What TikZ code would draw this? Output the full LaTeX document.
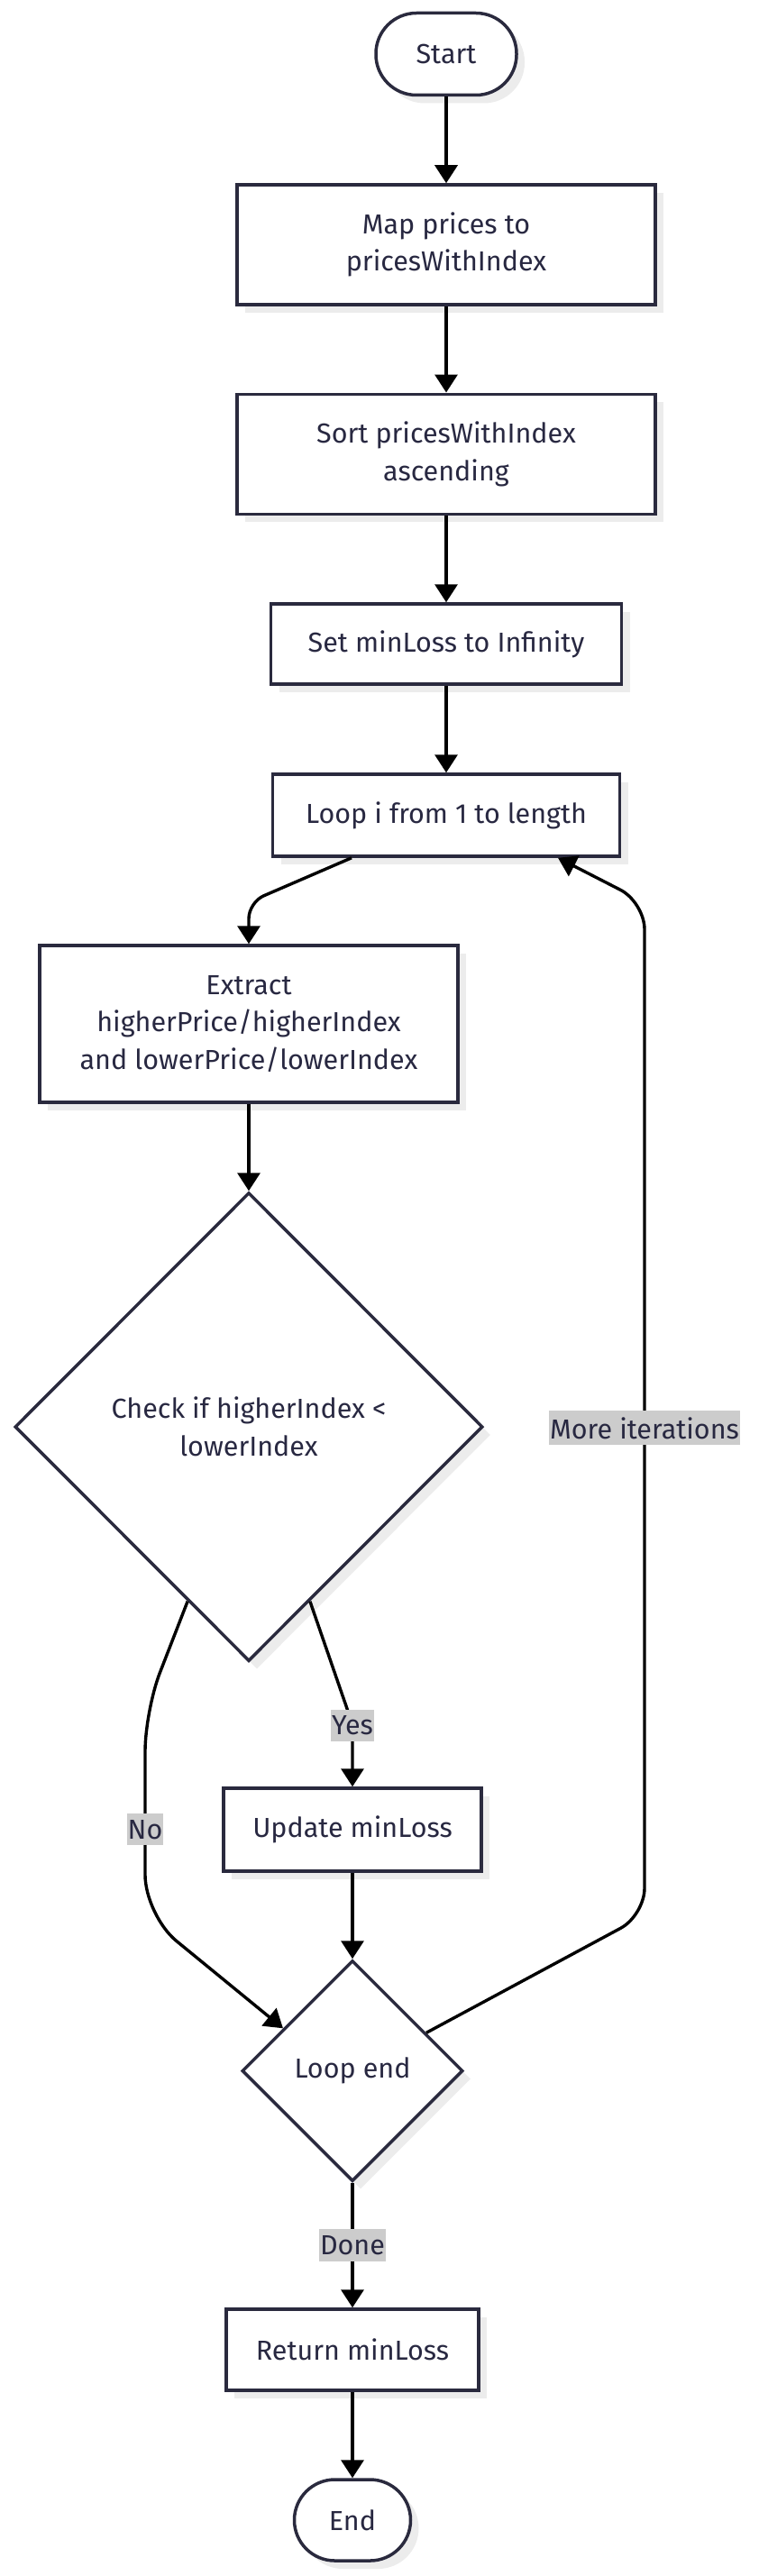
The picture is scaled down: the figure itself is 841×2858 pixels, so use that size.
\documentclass[tikz,border=0pt]{standalone}
\usepackage{fontspec}
\setmainfont{Fira Sans}
\usetikzlibrary{arrows.meta,shapes.geometric,shadows,calc}
\definecolor{nodeborder}{RGB}{42,42,62}
\definecolor{txt}{RGB}{40,40,65}
\definecolor{shadowc}{RGB}{236,236,236}
\definecolor{labelbg}{RGB}{204,204,204}
\tikzset{
  box/.style={draw=nodeborder, line width=3.5pt, fill=white, text=txt, align=center, inner sep=0pt,
    drop shadow={shadow xshift=9pt, shadow yshift=-9pt, fill=shadowc, opacity=1}},
  term/.style={box, rounded corners=45pt},
  dec/.style={box, diamond, aspect=1},
  edge/.style={draw=black, line width=3.4pt, -{Triangle[length=20pt,width=25pt]}},
  lab/.style={fill=labelbg, text=txt, sharp corners, inner xsep=1pt, inner ysep=7pt}
}
\begin{document}
\begin{tikzpicture}[x=1pt,y=-1pt, font=\fontsize{30.5}{41.5}\selectfont]
\useasboundingbox (0,0) rectangle (841,2858);
\node[term, minimum width=156pt, minimum height=91pt] (start) at (495,60) {Start};
\node[box, minimum width=464pt, minimum height=133pt] (map) at (495,271.5) {Map prices to\\pricesWithIndex};
\node[box, minimum width=464pt, minimum height=133pt] (sort) at (495,503.75) {Sort pricesWithIndex\\ascending};
\node[box, minimum width=389pt, minimum height=89pt] (setmin) at (495,714.5) {Set minLoss to Infinity};
\node[box, minimum width=385pt, minimum height=91pt] (loop) at (495,904.5) {Loop i from 1 to length};
\node[box, minimum width=464pt, minimum height=174pt] (extract) at (276,1136) {Extract\\higherPrice/higherIndex\\and lowerPrice/lowerIndex};
\node[dec, minimum width=519pt, minimum height=520pt] (check) at (276,1583) {Check if higherIndex <\\lowerIndex};
\node[box, minimum width=286pt, minimum height=92pt] (update) at (391,2030) {Update minLoss};
\node[dec, minimum width=245pt, minimum height=245pt] (loopend) at (391,2297.5) {Loop end};
\node[box, minimum width=280pt, minimum height=90pt] (return) at (391,2607) {Return minLoss};
\node[term, minimum width=129pt, minimum height=90pt] (end) at (391,2796) {End};

\coordinate (c1) at (276,1001);
\coordinate (c2) at (391,1913);
\coordinate (n1) at (161,1898);
\coordinate (n2) at (161,2125);
\coordinate (m1) at (715,2125);
\coordinate (m2) at (715,1001);

\draw[edge] (start) -- (map);
\draw[edge] (map) -- (sort);
\draw[edge] (sort) -- (setmin);
\draw[edge] (setmin) -- (loop);
\draw[edge, rounded corners=18pt] ($(loop.south)+(-105,0)$) -- (c1) -- (extract.north);
\draw[edge] (extract) -- (check);
\draw[edge, rounded corners=20pt] ($(check.south)!0.26!(check.east)$) -- (c2) -- node[lab, pos=0.02]{Yes} (update.north);
\draw[edge, rounded corners=45pt] ($(check.south)!0.26!(check.west)$) -- (n1) -- node[lab, pos=0.58]{No} (n2) -- ($(loopend.north)!0.62!(loopend.west)$);
\draw[edge] (update) -- (loopend);
\draw[edge, rounded corners=30pt] ($(loopend.north)!0.66!(loopend.east)$) -- (m1) -- node[lab, pos=0.481]{More iterations} (m2) -- ($(loop.south)+(124,0)$);
\draw[edge] (loopend) -- node[lab]{Done} (return);
\draw[edge] (return) -- (end);
\end{tikzpicture}
\end{document}
